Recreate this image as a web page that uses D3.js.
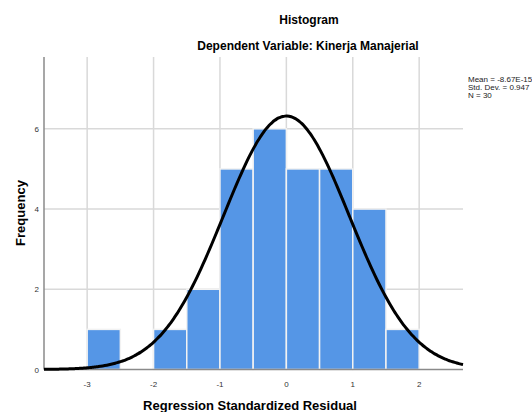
<!DOCTYPE html>
<html>
<head>
<meta charset="utf-8">
<script src="https://cdn.jsdelivr.net/npm/d3@7"></script>
<style>
  body { margin: 0; background: #fff; }
  text { font-family: "Liberation Sans", Arial, sans-serif; }
</style>
</head>
<body>
<script>
// histogram bins (width 0.5) and counts
var binStarts = [-3, -2, -1.5, -1, -0.5, 0, 0.5, 1, 1.5];
var binCounts = [1, 1, 2, 5, 6, 5, 5, 4, 1];
var binWidth = 0.5;

var xTicks = [-3, -2, -1, 0, 1, 2];
var yTicks = [0, 2, 4, 6];

var mean = -8.67e-15;
var sd = 0.947;
var n = 30;
var statLines = ["Mean = -8.67E-15", "Std. Dev. = 0.947", "N = 30"];

var w = 532;
var h = 412;
// plot box (don't call these top/left, window.top is read-only)
var plotL = 44, plotR = 463, plotT = 57, plotB = 369.5;

var svg = d3.select("body").append("svg")
    .attr("width", w)
    .attr("height", h);

var x = d3.scaleLinear().domain([-3.65, 2.66]).range([plotL, plotR]);
var y = d3.scaleLinear().domain([0, 7.79]).range([plotB, plotT]);

// grid
svg.selectAll("line.vgrid")
    .data(xTicks)
    .enter().append("line")
    .attr("class", "vgrid")
    .attr("x1", function(d) { return x(d); })
    .attr("x2", function(d) { return x(d); })
    .attr("y1", plotT)
    .attr("y2", plotB)
    .style("stroke", "#d9d9d9")
    .style("stroke-width", 1.5);

svg.selectAll("line.hgrid")
    .data(yTicks.filter(function(d) { return d > 0; }))
    .enter().append("line")
    .attr("class", "hgrid")
    .attr("x1", plotL)
    .attr("x2", plotR)
    .attr("y1", function(d) { return y(d); })
    .attr("y2", function(d) { return y(d); })
    .style("stroke", "#d9d9d9")
    .style("stroke-width", 1.5);

// bars
svg.selectAll("rect.bar")
    .data(binStarts)
    .enter().append("rect")
    .attr("class", "bar")
    .attr("x", function(d) { return x(d); })
    .attr("width", function(d) { return x(d + binWidth) - x(d); })
    .attr("y", function(d, i) { return y(binCounts[i]); })
    .attr("height", function(d, i) { return y(0) - y(binCounts[i]); })
    .style("fill", "#5596e6")
    .style("stroke", "#f2f2f2")
    .style("stroke-width", 1.5);

// axes lines
svg.append("line")
    .attr("x1", plotL).attr("x2", plotL)
    .attr("y1", plotT).attr("y2", plotB)
    .style("stroke", "#8a8a8a").style("stroke-width", 1.5);
svg.append("line")
    .attr("x1", plotL).attr("x2", plotR)
    .attr("y1", plotB).attr("y2", plotB)
    .style("stroke", "#8a8a8a").style("stroke-width", 1.5);

// normal curve
var curvePts = d3.range(0, 201).map(function(i) {
    var v = x.domain()[0] + (x.domain()[1] - x.domain()[0]) * i / 200;
    var z = (v - mean) / sd;
    var f = n * binWidth * Math.exp(-0.5 * z * z) / (sd * Math.sqrt(2 * Math.PI));
    return [v, f];
});
var line = d3.line()
    .x(function(d) { return x(d[0]); })
    .y(function(d) { return y(d[1]); })
    .curve(d3.curveBasis);
svg.append("path")
    .datum(curvePts)
    .attr("d", line)
    .style("fill", "none")
    .style("stroke", "#000")
    .style("stroke-width", 3);

// tick labels
svg.selectAll("text.xt")
    .data(xTicks)
    .enter().append("text")
    .attr("class", "xt")
    .attr("x", function(d) { return x(d); })
    .attr("y", 387)
    .attr("text-anchor", "middle")
    .style("font-size", "8px")
    .style("fill", "#333")
    .text(function(d) { return d; });

svg.selectAll("text.yt")
    .data(yTicks)
    .enter().append("text")
    .attr("class", "yt")
    .attr("x", 39)
    .attr("y", function(d) { return y(d) + 3; })
    .attr("text-anchor", "end")
    .style("font-size", "8px")
    .style("fill", "#333")
    .text(function(d) { return d; });

// titles
svg.append("text")
    .attr("x", 309).attr("y", 24)
    .attr("text-anchor", "middle")
    .style("font-size", "12px").style("font-weight", "bold")
    .text("Histogram");
svg.append("text")
    .attr("x", 308).attr("y", 50)
    .attr("text-anchor", "middle")
    .style("font-size", "12px").style("font-weight", "bold")
    .text("Dependent Variable: Kinerja Manajerial");

svg.append("text")
    .attr("x", 250).attr("y", 410)
    .attr("text-anchor", "middle")
    .style("font-size", "13px").style("font-weight", "bold")
    .text("Regression Standardized Residual");

svg.append("text")
    .attr("transform", "translate(25,213) rotate(-90)")
    .attr("text-anchor", "middle")
    .style("font-size", "13px").style("font-weight", "bold")
    .text("Frequency");

// stats legend
svg.selectAll("text.stat")
    .data(statLines)
    .enter().append("text")
    .attr("class", "stat")
    .attr("x", 468)
    .attr("y", function(d, i) { return 82 + i * 8; })
    .style("font-size", "8px")
    .style("fill", "#222")
    .text(function(d) { return d; });
</script>
</body>
</html>
